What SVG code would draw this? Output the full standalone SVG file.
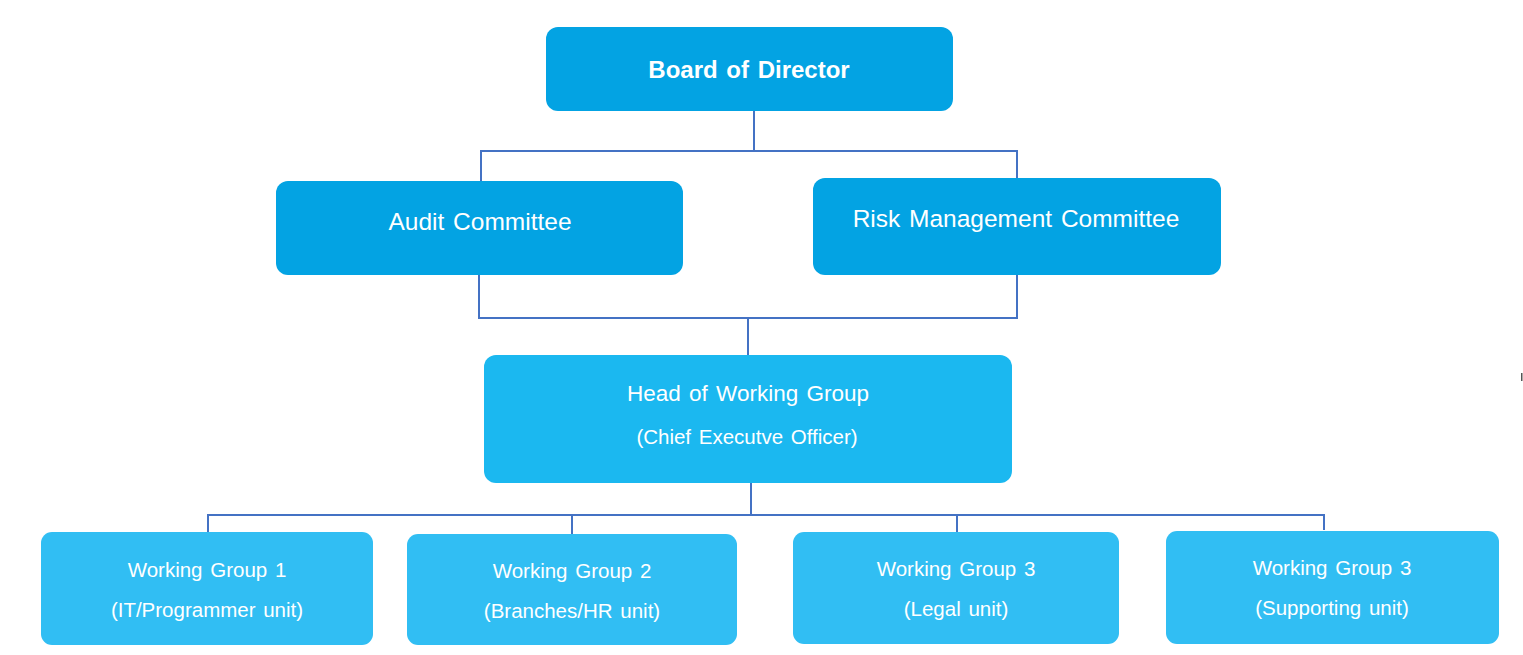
<svg xmlns="http://www.w3.org/2000/svg" width="1523" height="655" viewBox="0 0 1523 655">
<style>
.n1{fill:#03a3e3}
.n2{fill:#1bb8f0}
.n3{fill:#31bef3}
text{fill:#ffffff;font-family:"Liberation Sans",Arial,sans-serif;text-anchor:middle;dominant-baseline:central;word-spacing:2px}
.t1{font-size:24px;font-weight:bold}
.t2{font-size:24.5px}
.t3{font-size:22.5px}
.t4{font-size:20.5px}
.t5{font-size:20.5px}
.c{fill:none;stroke:#4472c4;stroke-width:2}
</style>
<rect width="1523" height="655" fill="#ffffff"/>
<g id="connectors">
<path class="c" d="M754 111V151M481 181V151H1017V178"/>
<path class="c" d="M479 275V318H1017V275M748 318V355"/>
<path class="c" d="M751 483V515M208 532V515H1324V530M572 515V534M957 515V532"/>
</g>
<g id="board"><rect class="n1" x="546" y="27" width="407" height="84" rx="12"/><text class="t1" x="749" y="69">Board of Director</text></g>
<g id="audit"><rect class="n1" x="276" y="181" width="407" height="94" rx="12"/><text class="t2" x="480" y="221">Audit Committee</text></g>
<g id="risk"><rect class="n1" x="813" y="178" width="408" height="97" rx="12"/><text class="t2" x="1016" y="218">Risk Management Committee</text></g>
<g id="head"><rect class="n2" x="484" y="355" width="528" height="128" rx="12"/><text class="t3" x="748" y="393">Head of Working Group</text><text class="t4" x="747" y="436">(Chief Executve Officer)</text></g>
<g id="wg1"><rect class="n3" x="41" y="532" width="332" height="113" rx="11"/><text class="t5" x="207" y="569">Working Group 1</text><text class="t5" x="207" y="609">(IT/Programmer unit)</text></g>
<g id="wg2"><rect class="n3" x="407" y="534" width="330" height="111" rx="11"/><text class="t5" x="572" y="570">Working Group 2</text><text class="t5" x="572" y="610">(Branches/HR unit)</text></g>
<g id="wg3"><rect class="n3" x="793" y="532" width="326" height="112" rx="11"/><text class="t5" x="956" y="568">Working Group 3</text><text class="t5" x="956" y="608">(Legal unit)</text></g>
<g id="wg4"><rect class="n3" x="1166" y="531" width="333" height="113" rx="11"/><text class="t5" x="1332" y="567">Working Group 3</text><text class="t5" x="1332" y="607">(Supporting unit)</text></g>
<rect x="1521" y="373" width="1.5" height="8" fill="#555555"/>
</svg>
